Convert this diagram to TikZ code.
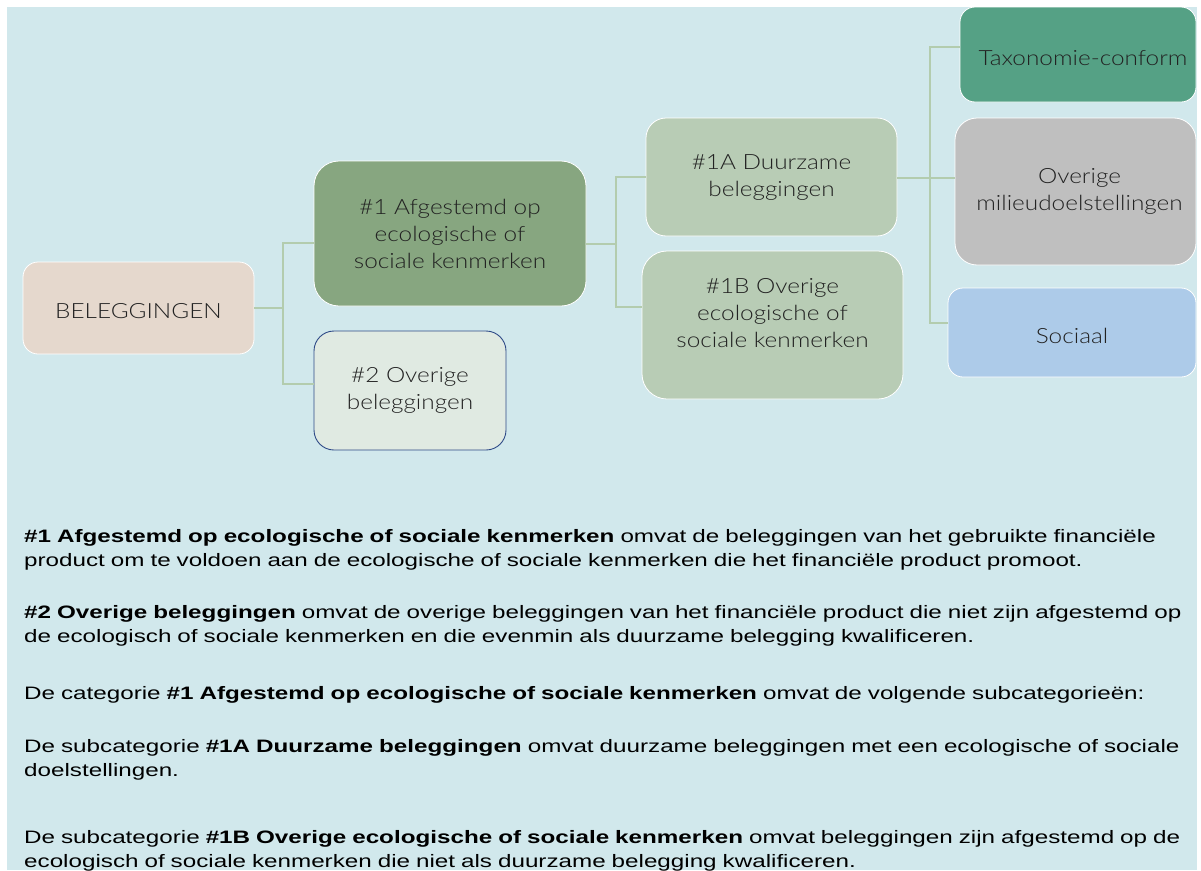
\documentclass[tikz,border=0pt]{standalone}
\usepackage{fontspec}
\setmainfont{Liberation Sans}[FakeStretch=1.345]
\IfFontExistsTF{Lato Light}
  {\newfontfamily\boxfont{Lato Light}[FakeStretch=1.16]}
  {\newfontfamily\boxfont{Lato}[FakeStretch=1.14]}
\definecolor{bgblue}{HTML}{D1E8EC}
\definecolor{belfill}{HTML}{E5D8CD}
\definecolor{onefill}{HTML}{87A680}
\definecolor{twofill}{HTML}{E0EAE2}
\definecolor{twoline}{HTML}{2E4A87}
\definecolor{subfill}{HTML}{B8CCB5}
\definecolor{taxfill}{HTML}{55A185}
\definecolor{ovfill}{HTML}{BFBFBF}
\definecolor{socfill}{HTML}{ADCBE9}
\definecolor{connc}{HTML}{B3CCAE}
\definecolor{boxtext}{HTML}{222222}
\tikzset{
  box/.style={rectangle, rounded corners=#1, draw=white, line width=0.8pt,
    align=center, inner sep=0pt, text=boxtext,
    font=\boxfont\fontsize{21}{27}\selectfont,
    execute at begin node={\rule{0pt}{22pt}}},
  box/.default=18pt,
  conn/.style={draw=connc, line width=1.2pt},
  para/.style={anchor=base west, inner sep=0pt, text width=1153pt, align=left,
    font=\fontsize{18}{24.5}\selectfont, text=black},
}
\newcommand{\jline}[1]{\makebox[1153pt][s]{#1}}
\begin{document}
\begin{tikzpicture}[x=1pt,y=-1pt]
\useasboundingbox (0,0) rectangle (1201,870);
\fill[white] (0,0) rectangle (1201,870);
\fill[bgblue] (7,7) rectangle (1197,870);

% boxes
\node[box=15pt, fill=belfill, minimum width=231pt, minimum height=92pt] (bel) at (138.5,308) {BELEGGINGEN};
\node[box=25pt, fill=onefill, minimum width=272pt, minimum height=145pt] (n1) at (450,233.5) {\#1 Afgestemd op\\ecologische of\\sociale kenmerken};
\node[box=20pt, fill=twofill, draw=twoline, line width=0.9pt, minimum width=192pt, minimum height=119pt] (n2) at (410,390.5) {\#2 Overige\\beleggingen};
\node[box=20pt, fill=subfill, minimum width=251pt, minimum height=118pt] (n1a) at (771.5,177) {\#1A Duurzame\\beleggingen};
\node[box=25pt, fill=subfill, minimum width=261pt, minimum height=148pt] (n1b) at (772.5,325) {\#1B Overige\\ecologische of\\sociale kenmerken\\[-3pt]\mbox{}};
\node[box=15pt, fill=taxfill, minimum width=236pt, minimum height=95pt] (tax) at (1078,54.5) {\hspace*{10pt}Taxonomie-conform};
\node[box=22pt, fill=ovfill, minimum width=241pt, minimum height=147pt] (ov) at (1075.5,191.5) {\hspace*{8pt}Overige\\\hspace*{8pt}milieudoelstellingen};
\node[box=15pt, fill=socfill, minimum width=248pt, minimum height=89pt] (soc) at (1072,332.5) {Sociaal};

% junctions
\coordinate (j1) at (283,308);
\coordinate (j2) at (616,244);
\coordinate (j3) at (930,178);

% connectors
\draw[conn] (bel.east) -- (j1);
\draw[conn] (j1) |- ([yshift=-9.5pt]n1.west);
\draw[conn] (j1) |- ([yshift=6.5pt]n2.west);
\draw[conn] ([yshift=-10.5pt]n1.east) -- (j2);
\draw[conn] (j2) |- (n1a.west);
\draw[conn] (j2) |- ([yshift=18pt]n1b.west);
\draw[conn] ([yshift=-1pt]n1a.east) -- (j3);
\draw[conn] (j3) |- ([yshift=7.5pt]tax.west);
\draw[conn] (j3) |- ([yshift=13.5pt]ov.west);
\draw[conn] (j3) |- ([yshift=9.5pt]soc.west);

% body text
\node[para] (p1) at (24,542) {\jline{\textbf{\#1 Afgestemd op ecologische of sociale kenmerken} omvat de beleggingen van het gebruikte financiële}\\product om te voldoen aan de ecologische of sociale kenmerken die het financiële product promoot.};
\node[para] (p2) at (24,618) {\jline{\textbf{\#2 Overige beleggingen} omvat de overige beleggingen van het financiële product die niet zijn afgestemd op}\\de ecologisch of sociale kenmerken en die evenmin als duurzame belegging kwalificeren.};
\node[para] (p3) at (24,699) {De categorie \textbf{\#1 Afgestemd op ecologische of sociale kenmerken} omvat de volgende subcategorieën:};
\node[para] (p4) at (24,752) {\jline{De subcategorie \textbf{\#1A Duurzame beleggingen} omvat duurzame beleggingen met een ecologische of sociale}\\doelstellingen.};
\node[para] (p5) at (24,843) {\jline{De subcategorie \textbf{\#1B Overige ecologische of sociale kenmerken} omvat beleggingen zijn afgestemd op de}\\ecologisch of sociale kenmerken die niet als duurzame belegging kwalificeren.};
\end{tikzpicture}
\end{document}
